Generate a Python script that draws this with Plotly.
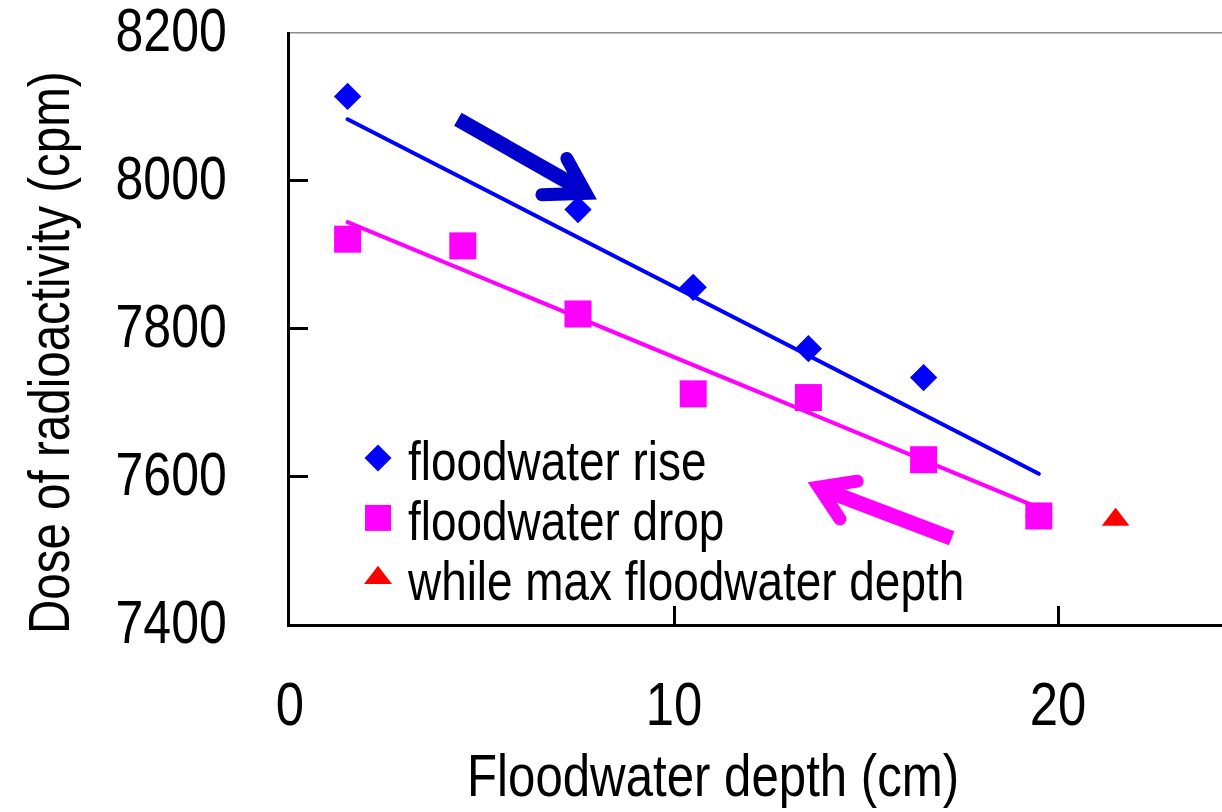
import plotly.graph_objects as go

# ---- data ----
rise_depth = [1.5, 7.5, 10.5, 13.5, 16.5, 19.5]
rise_dose = [8113, 7960, 7855, 7772, 7733, 7546]
drop_depth = [1.5, 4.5, 7.5, 10.5, 13.5, 16.5, 19.5]
drop_dose = [7920, 7911, 7819, 7711, 7706, 7622, 7546]
max_depth = [21.5]
max_dose = [7541]

rise_trend_depth = [1.5, 19.5]
rise_trend_dose = [8082, 7603]
drop_trend_depth = [1.5, 19.5]
drop_trend_dose = [7943, 7557]

# direction arrows (shaft + chevron head), in data units
rise_shaft_depth = [4.37, 7.63]
rise_shaft_dose = [8082, 7986]
rise_head_depth = [7.21, 7.71, 6.56]
rise_head_dose = [8029, 7982, 7980]
drop_shaft_depth = [17.23, 13.93]
drop_shaft_dose = [7516, 7581]
drop_head_depth = [14.77, 13.77, 14.32]
drop_head_dose = [7593, 7585, 7542]

x_tickvals = [0, 10, 20]
x_ticktext = ["0", "10", "20"]
y_tickvals = [7400, 7600, 7800, 8000, 8200]
y_ticktext = ["7400", "7600", "7800", "8000", "8200"]

names = ["floodwater rise", "floodwater drop", "while max floodwater depth"]
x_title = "Floodwater depth (cm)"
y_title = "Dose of radioactivity (cpm)"

FONT = "Liberation Sans, Arial, sans-serif"
BLUE = "#0000FF"
DARKBLUE = "#0000CC"
MAGENTA = "#FF00FF"
RED = "#FF0000"

fig = go.Figure()

# trend lines
fig.add_trace(go.Scatter(x=rise_trend_depth, y=rise_trend_dose, mode="lines",
                         line=dict(color=BLUE, width=4), showlegend=False, hoverinfo="skip"))
fig.add_trace(go.Scatter(x=drop_trend_depth, y=drop_trend_dose, mode="lines",
                         line=dict(color=MAGENTA, width=4), showlegend=False, hoverinfo="skip"))

# data points
fig.add_trace(go.Scatter(x=rise_depth, y=rise_dose, mode="markers", name=names[0],
                         marker=dict(symbol="diamond", size=21, color=BLUE), legend="legend"))
fig.add_trace(go.Scatter(x=drop_depth, y=drop_dose, mode="markers", name=names[1],
                         marker=dict(symbol="square", size=27, color=MAGENTA), legend="legend2"))
fig.add_trace(go.Scatter(x=max_depth, y=max_dose, mode="markers", name=names[2],
                         marker=dict(symbol="triangle-up", size=24, color=RED), legend="legend3"))

# arrows
fig.add_trace(go.Scatter(x=rise_shaft_depth, y=rise_shaft_dose, mode="lines",
                         line=dict(color=DARKBLUE, width=15), showlegend=False, hoverinfo="skip"))
fig.add_trace(go.Scatter(x=rise_head_depth, y=rise_head_dose, mode="lines",
                         line=dict(color=DARKBLUE, width=13), showlegend=False, hoverinfo="skip"))
fig.add_trace(go.Scatter(x=drop_shaft_depth, y=drop_shaft_dose, mode="lines",
                         line=dict(color=MAGENTA, width=15), showlegend=False, hoverinfo="skip"))
fig.add_trace(go.Scatter(x=drop_head_depth, y=drop_head_dose, mode="lines",
                         line=dict(color=MAGENTA, width=13), showlegend=False, hoverinfo="skip"))

W, H = 1222, 812
ML, MR, MT, MB = 290, 0, 32, 188
PW, PH = W - ML - MR, H - MT - MB


def px_x(p):
    return (p - ML) / PW


def px_y(p):
    return (H - MB - p) / PH


leg_common = dict(font=dict(family=FONT, size=56, color="black"), bgcolor="rgba(0,0,0,0)",
                  borderwidth=0, itemwidth=50, xanchor="left", yanchor="middle",
                  x=px_x(348), itemclick=False, itemdoubleclick=False)

fig.update_layout(
    width=W, height=H,
    margin=dict(l=ML, r=MR, t=MT, b=MB, pad=0, autoexpand=False),
    paper_bgcolor="white", plot_bgcolor="white",
    font=dict(family=FONT, size=58, color="black"),
    showlegend=True,
    legend=dict(y=px_y(458), **leg_common),
    legend2=dict(y=px_y(518), **leg_common),
    legend3=dict(y=px_y(578), **leg_common),
    xaxis=dict(range=[0, PW / 38.4], tickvals=x_tickvals, ticktext=x_ticktext,
               ticks="inside", ticklen=18, tickwidth=3, tickcolor="black",
               showline=True, linecolor="black", linewidth=3, automargin=False,
               showgrid=False, zeroline=False, ticklabeloverflow="allow",
               tickfont=dict(family=FONT, size=62, color="black"),
               ticklabelstandoff=24),
    yaxis=dict(range=[7400, 8200], tickvals=y_tickvals, ticktext=y_ticktext,
               ticks="inside", ticklen=18, tickwidth=3, tickcolor="black",
               showline=True, linecolor="black", linewidth=3, automargin=False,
               showgrid=False, zeroline=False, ticklabeloverflow="allow",
               tickfont=dict(family=FONT, size=61, color="black"),
               ticklabelstandoff=48, ticklabelshift=-2),
    shapes=[dict(type="line", xref="paper", yref="y", x0=0, x1=1, y0=8200, y1=8200,
                 line=dict(color="#8C8C8C", width=3), layer="below")],
    annotations=[
        dict(text=x_title, xref="paper", yref="paper", x=px_x(713), y=px_y(775),
             xanchor="center", yanchor="middle", showarrow=False,
             font=dict(family=FONT, size=60, color="black")),
        dict(text=y_title, xref="paper", yref="paper", x=px_x(48), y=px_y(353),
             xanchor="center", yanchor="middle", textangle=-90, showarrow=False,
             font=dict(family=FONT, size=58, color="black")),
    ],
)

post = """
var gd = document.getElementById('{plot_id}');
var NARROW = 0.82;
var TARGET = {'diamond': 27, 'square': 26, 'triangle-up': 28};
function fixAll(){
  gd.querySelectorAll('g.traces').forEach(function(g){
    var d = g.__data__;
    var tr = d && d[0] && d[0].trace;
    if (!tr || !tr.marker) return;
    var target = TARGET[tr.marker.symbol] || 26;
    g.querySelectorAll('path.scatterpts').forEach(function(p){
      var t = p.getAttribute('transform') || '';
      if (t.indexOf('scale') >= 0) return;
      var bb = p.getBBox();
      var s = bb.width > 0 ? target / bb.width : 1.5;
      p.setAttribute('transform', t + ' scale(' + s + ')');
    });
  });
  var traces = gd.querySelectorAll('.scatterlayer .trace');
  [0, 1, 6, 8].forEach(function(i){
    if (traces[i]) traces[i].querySelectorAll('path.js-line').forEach(function(p){
      p.style.strokeLinecap = 'round';
    });
  });
  gd.querySelectorAll('text').forEach(function(t){
    var tr = t.getAttribute('transform') || '';
    if (tr.indexOf('scale(' + NARROW) >= 0) return;
    var x = parseFloat(t.getAttribute('x')) || 0;
    var y = parseFloat(t.getAttribute('y')) || 0;
    t.setAttribute('transform', (tr + ' translate(' + x + ',' + y + ') scale(' + NARROW + ',1) translate(' + (-x) + ',' + (-y) + ')').trim());
  });
}
fixAll();
if (gd.on) gd.on('plotly_afterplot', fixAll);
setTimeout(fixAll, 50);
setTimeout(fixAll, 300);
"""

fig.write_html("out.html", post_script=post, config={"displayModeBar": False})
